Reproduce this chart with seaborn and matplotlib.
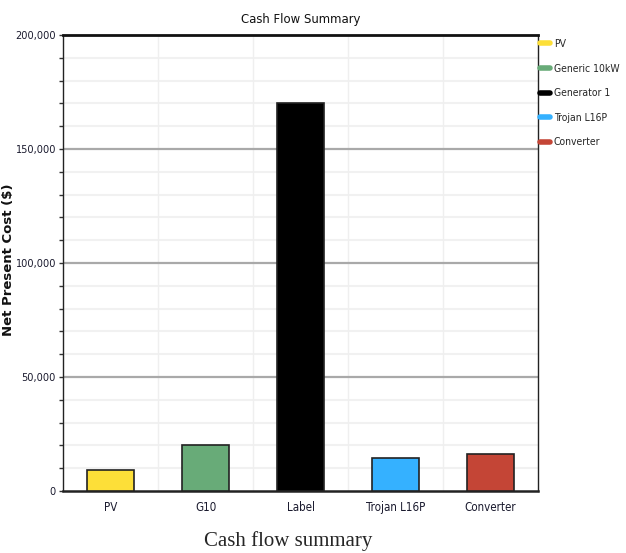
import matplotlib
matplotlib.use("Agg")
import matplotlib.pyplot as plt
from matplotlib.lines import Line2D
from matplotlib.ticker import MultipleLocator, FuncFormatter, FixedLocator
from matplotlib import font_manager
import seaborn as sns
import pandas as pd

# Net present cost per component
categories = ["PV", "G10", "Label", "Trojan L16P", "Converter"]
legend_labels = ["PV", "Generic 10kW", "Generator 1", "Trojan L16P", "Converter"]
npc_values = [9000, 20000, 170000, 14300, 16200]
colors = ["#FDDF38", "#68AB78", "#000000", "#35B1FF", "#C44536"]

df = pd.DataFrame({"component": categories, "npc": npc_values})

sns.set_style("white")

# narrow sans for ticks, title and legend: condensed face when installed
cond_path = font_manager.findfont(
    font_manager.FontProperties(family="DejaVu Sans", stretch="condensed"))
if "Condensed" in cond_path:
    plt.rcParams["font.family"] = ["DejaVu Sans"]
    plt.rcParams["font.stretch"] = "condensed"
    tick_size, ytick_size, leg_size, title_size = 8.3, 7.8, 7.5, 9.4
else:
    plt.rcParams["font.family"] = ["Liberation Sans"]
    tick_size, ytick_size, leg_size, title_size = 8, 7.6, 7.2, 9.5

fig = plt.figure(figsize=(6.26, 5.53), dpi=100)
ax = fig.add_axes([63 / 626, 1 - 491 / 553, 475 / 626, 456 / 553])

sns.barplot(data=df, x="component", y="npc", hue="component", palette=colors,
            saturation=1, width=0.5, edgecolor="#222222", linewidth=1.2,
            legend=False, ax=ax, zorder=3)

ax.set_ylim(0, 200000)
ax.set_xlim(-0.5, len(categories) - 0.5)

# grid: faint minor lines every 10k, grey major lines every 50k
ax.yaxis.set_major_locator(MultipleLocator(50000))
ax.yaxis.set_minor_locator(MultipleLocator(10000))
ax.yaxis.set_major_formatter(FuncFormatter(lambda v, p: f"{int(v):,}"))
for v in range(10000, 200000, 10000):
    if v % 50000:
        ax.axhline(v, color="#f1f1f1", lw=1.5, zorder=0)
for v in (50000, 100000, 150000):
    ax.axhline(v, color="#a9a9a9", lw=1.6, zorder=1)
for xb in [0.5, 1.5, 2.5, 3.5]:
    ax.axvline(xb, color="#efefef", lw=1.0, zorder=0)

ax.xaxis.set_minor_locator(FixedLocator([0.5, 1.5, 2.5, 3.5, 4.5]))
ax.tick_params(axis="x", which="major", length=0, pad=7,
               labelsize=tick_size, labelcolor="#1a1a2e")
ax.tick_params(axis="x", which="minor", length=4, width=1, color="#333333", direction="out")
ax.tick_params(axis="y", which="both", length=3, width=1, color="#333333",
               direction="out", left=True, pad=2)
ax.tick_params(axis="y", which="major", labelsize=ytick_size, labelcolor="#1a1a2e")

for side in ["left", "bottom", "right"]:
    ax.spines[side].set_color("#222222")
    ax.spines[side].set_linewidth(1.0)
ax.spines["top"].set_color("#111111")
ax.spines["top"].set_linewidth(2.0)
ax.spines["bottom"].set_linewidth(1.8)

ax.set_xlabel("")
ax.set_ylabel("Net Present Cost ($)", color="#111111",
              fontproperties=font_manager.FontProperties(
                  family="DejaVu Sans", weight="bold", stretch="normal", size=9.5))
ax.yaxis.set_label_coords(-0.102, 0.507)
ax.set_title("Cash Flow Summary", pad=9, color="#111111", fontsize=title_size)

handles = [Line2D([0], [0], color=c, lw=4, solid_capstyle="round") for c in colors]
leg = fig.legend(handles, legend_labels, loc="upper left",
                 bbox_to_anchor=(537 / 626, 1 - 36 / 553),
                 frameon=False, handlelength=0.9, handletextpad=0.4,
                 labelspacing=1.4, borderaxespad=0.0, borderpad=0.3,
                 fontsize=leg_size)

fig.text(288 / 626, 1 - 541 / 553, "Cash flow summary", ha="center", va="center",
         fontproperties=font_manager.FontProperties(
             family="Liberation Serif", stretch="normal", size=15))

fig.savefig("out.png", dpi=100)
